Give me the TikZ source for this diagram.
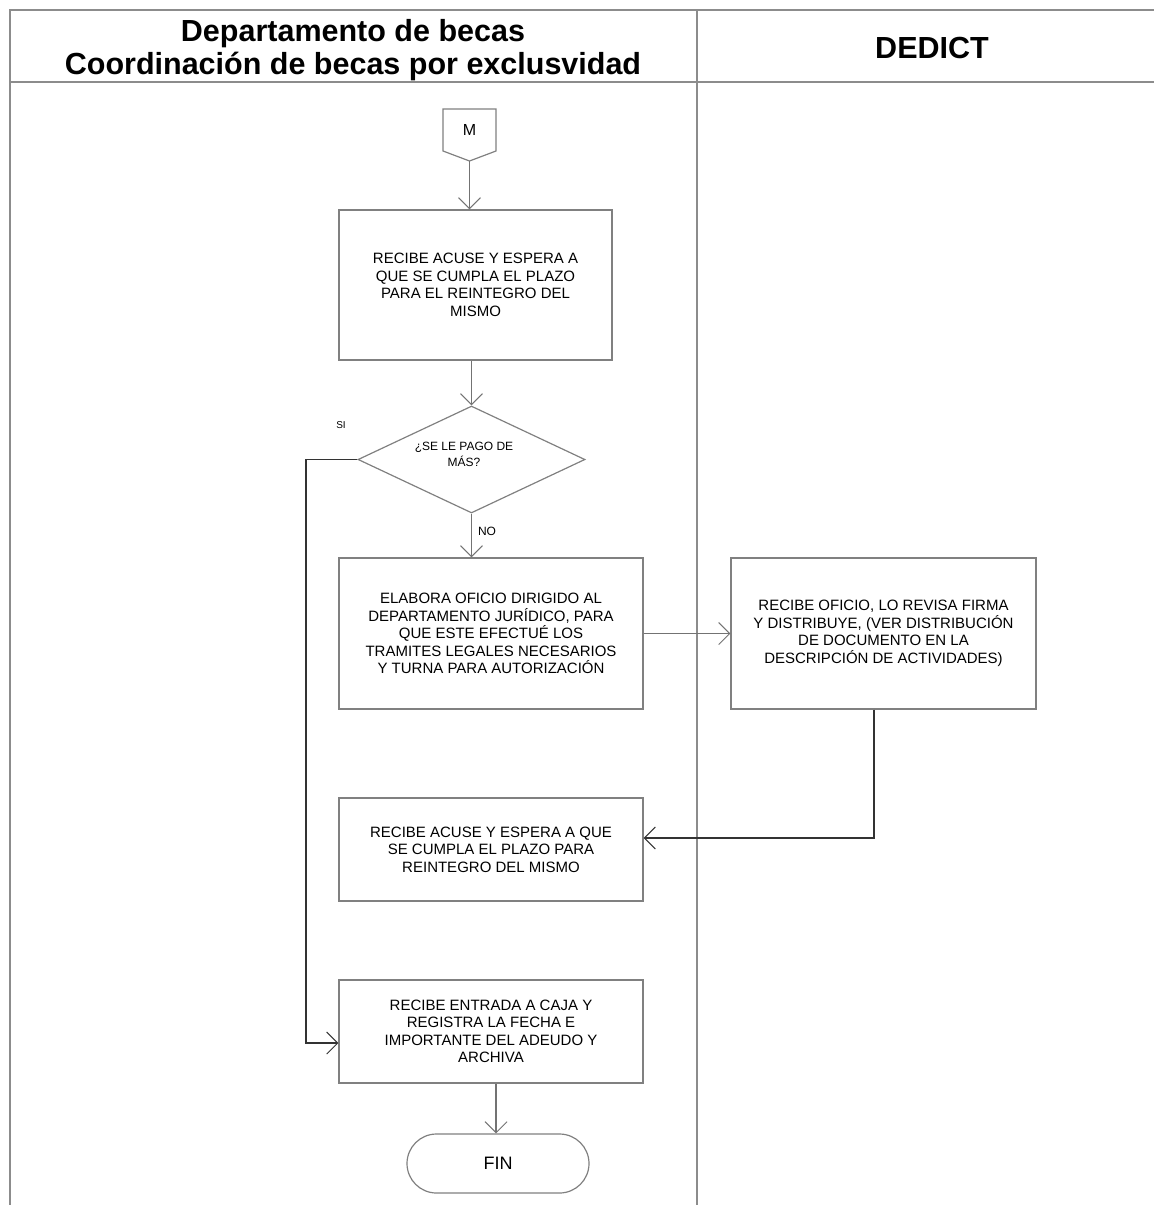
\documentclass[tikz,border=0pt]{standalone}
\usepackage{fontspec}
\setmainfont{Liberation Sans}
\usetikzlibrary{arrows.meta,shapes.geometric}
\definecolor{frame}{gray}{0.55}
\definecolor{boxline}{gray}{0.5}
\definecolor{conn}{gray}{0.45}
\tikzset{
  procbox/.style={draw=boxline,line width=1.2pt,align=center,inner sep=0pt,
    font=\fontsize{15}{17.5}\selectfont},
  arr/.style={draw=conn,line width=1.1pt,-{Straight Barb[length=11pt,width=22pt,line width=1pt]}},
  darkarr/.style={draw=black!80,line width=1.4pt,-{Straight Barb[length=11pt,width=22pt,line width=1pt]}},
  lanefr/.style={draw=frame,line width=2pt},
  small/.style={font=\fontsize{12}{15.5}\selectfont,inner sep=0pt},
  headtxt/.style={font=\fontsize{30.5}{33}\selectfont\bfseries,align=center},
}
\begin{document}
\begin{tikzpicture}[x=1pt,y=-1pt]
\useasboundingbox (0,0) rectangle (1154,1205);
% lanes
\draw[lanefr] (10,1205) -- (10,10) -- (1160,10);
\draw[lanefr] (10,82) -- (1160,82);
\draw[lanefr] (697,10) -- (697,1205);
\node[headtxt] (h1) at (353,50) {Departamento de becas\\Coordinación de becas por exclusvidad};
\node[headtxt] (h2) at (932,48) {DEDICT};
% off-page connector M
\node[inner sep=0pt,font=\fontsize{16}{18}\selectfont] (m) at (469.5,130) {M};
\draw[draw=boxline,line width=1.2pt] (443,109) -- (496,109) -- (496,151) -- (469.5,161) -- (443,151) -- cycle;
\coordinate (mb) at (469.5,161);
% boxes
\node[procbox,minimum width=273pt,minimum height=150pt] (b1) at (475.5,285) {RECIBE ACUSE Y ESPERA A\\QUE SE CUMPLA EL PLAZO\\PARA EL REINTEGRO DEL\\MISMO};
\node[draw=boxline,line width=1.2pt,diamond,minimum width=227pt,minimum height=107pt,inner sep=0pt,shape aspect=2.12] (d) at (471.5,459.5) {};
\node[small,align=center] (dq) at (464,454.5) {¿SE LE PAGO DE\\MÁS?};
\node[font=\fontsize{10}{11}\selectfont,inner sep=0pt] (si) at (341,425) {SI};
\node[font=\fontsize{12}{13}\selectfont,inner sep=0pt] (no) at (487,531) {NO};
\node[procbox,minimum width=304pt,minimum height=151pt] (b2) at (491,633.5) {ELABORA OFICIO DIRIGIDO AL\\DEPARTAMENTO JURÍDICO, PARA\\QUE ESTE EFECTUÉ LOS\\TRAMITES LEGALES NECESARIOS\\Y TURNA PARA AUTORIZACIÓN};
\node[procbox,minimum width=305pt,minimum height=151pt] (b3) at (883.5,633.5) {RECIBE OFICIO, LO REVISA FIRMA\\Y DISTRIBUYE, (VER DISTRIBUCIÓN\\DE DOCUMENTO EN LA\\DESCRIPCIÓN DE ACTIVIDADES)};
\node[procbox,minimum width=304pt,minimum height=103pt] (b4) at (491,849.5) {RECIBE ACUSE Y ESPERA A QUE\\SE CUMPLA EL PLAZO PARA\\REINTEGRO DEL MISMO};
\node[procbox,minimum width=304pt,minimum height=103pt] (b5) at (491,1031.5) {RECIBE ENTRADA A CAJA Y\\REGISTRA LA FECHA E\\IMPORTANTE DEL ADEUDO Y\\ARCHIVA};
\node[draw=boxline,line width=1.2pt,rounded corners=29.5pt,minimum width=182pt,minimum height=59pt,font=\fontsize{18}{20}\selectfont] (fin) at (498,1163.5) {FIN};
% connectors
\draw[arr] (mb) -- (mb |- b1.north);
\draw[arr] (b1.south -| d.north) -- (d.north);
\draw[arr] (d.south) -- (d.south |- b2.north);
\draw[arr] (b2.east) -- (b3.west);
\draw[darkarr] (b3.south -| 874,0) -- (874,838) -- (b4.east |- 0,838);
\draw[darkarr] (d.west) -- (306,459.5) -- (306,1043) -- (b5.west |- 0,1043);
\draw[arr] (b5.south -| 496,0) -- (fin.north -| 496,0);
\end{tikzpicture}
\end{document}
